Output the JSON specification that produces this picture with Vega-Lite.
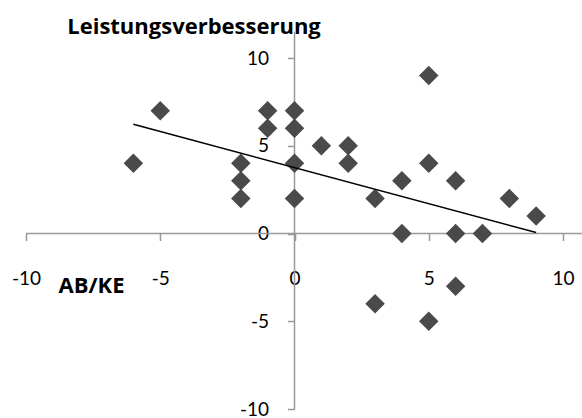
{
  "$schema": "https://vega.github.io/schema/vega-lite/v6.json",
  "width": 537,
  "height": 351,
  "autosize": "none",
  "padding": {"left": 26, "top": 58, "right": 19, "bottom": 9},
  "background": "white",
  "config": {"view": {"stroke": null}, "font": "Lato"},
  "datasets": {
    "points": [
      {"ab_ke": -6, "leistung": 4},
      {"ab_ke": -5, "leistung": 7},
      {"ab_ke": -2, "leistung": 4},
      {"ab_ke": -2, "leistung": 3},
      {"ab_ke": -2, "leistung": 2},
      {"ab_ke": -1, "leistung": 7},
      {"ab_ke": -1, "leistung": 6},
      {"ab_ke": 0, "leistung": 7},
      {"ab_ke": 0, "leistung": 6},
      {"ab_ke": 0, "leistung": 4},
      {"ab_ke": 0, "leistung": 2},
      {"ab_ke": 1, "leistung": 5},
      {"ab_ke": 2, "leistung": 5},
      {"ab_ke": 2, "leistung": 4},
      {"ab_ke": 3, "leistung": 2},
      {"ab_ke": 3, "leistung": -4},
      {"ab_ke": 4, "leistung": 3},
      {"ab_ke": 4, "leistung": 0},
      {"ab_ke": 5, "leistung": 9},
      {"ab_ke": 5, "leistung": 4},
      {"ab_ke": 5, "leistung": -5},
      {"ab_ke": 6, "leistung": 3},
      {"ab_ke": 6, "leistung": 0},
      {"ab_ke": 6, "leistung": -3},
      {"ab_ke": 7, "leistung": 0},
      {"ab_ke": 8, "leistung": 2},
      {"ab_ke": 9, "leistung": 1}
    ],
    "axislines": [
      {"ab_ke": 0, "ab_ke_end": 0, "leistung": -10, "leistung_end": 11.5},
      {"ab_ke": -10, "ab_ke_end": 10.7, "leistung": 0, "leistung_end": 0}
    ]
  },
  "layer": [
    {
      "data": {"name": "axislines"},
      "mark": {"type": "rule", "color": "#999999", "strokeWidth": 1.5},
      "encoding": {
        "x": {"field": "ab_ke", "type": "quantitative"},
        "x2": {"field": "ab_ke_end"},
        "y": {"field": "leistung", "type": "quantitative"},
        "y2": {"field": "leistung_end"}
      }
    },
    {
      "data": {"name": "points"},
      "mark": {"type": "point", "shape": "diamond", "filled": true, "size": 380, "color": "#4a4a4a", "opacity": 1},
      "encoding": {
        "x": {
          "field": "ab_ke",
          "type": "quantitative",
          "scale": {"domain": [-10, 10], "nice": false, "zero": false},
          "axis": {
            "orient": "bottom",
            "offset": -175.5,
            "values": [-10, -5, 0, 5, 10],
            "labelExpr": "datum.value < 0 ? '-' + abs(datum.value) : '' + datum.value",
            "domain": false,
            "grid": false,
            "tickColor": "#999999",
            "tickWidth": 1.5,
            "tickSize": 7,
            "labelFontSize": 19,
            "labelColor": "#000000",
            "labelPadding": 29,
            "labelFlush": false,
            "labelOverlap": false,
            "title": "AB/KE",
            "titleFont": "Open Sans",
            "titleFontSize": 22,
            "titleFontWeight": "bold",
            "titleColor": "#000000",
            "titleAnchor": null,
            "titleAlign": "center",
            "titleBaseline": "middle",
            "titleX": 65,
            "titleY": 52
          }
        },
        "y": {
          "field": "leistung",
          "type": "quantitative",
          "scale": {"domain": [-10, 10], "nice": false, "zero": false},
          "axis": {
            "orient": "left",
            "offset": -268.5,
            "values": [-10, -5, 0, 5, 10],
            "labelExpr": "datum.value < 0 ? '-' + abs(datum.value) : '' + datum.value",
            "domain": false,
            "grid": false,
            "tickColor": "#999999",
            "tickWidth": 1.5,
            "tickSize": 7,
            "labelFontSize": 19,
            "labelColor": "#000000",
            "labelPadding": 19,
            "labelFlush": false,
            "labelOverlap": false,
            "title": "Leistungsverbesserung",
            "titleFont": "Open Sans",
            "titleFontSize": 22,
            "titleFontWeight": "bold",
            "titleColor": "#000000",
            "titleAngle": 0,
            "titleAnchor": null,
            "titleAlign": "center",
            "titleBaseline": "middle",
            "titleX": -101,
            "titleY": -32
          }
        }
      }
    },
    {
      "data": {"name": "points"},
      "transform": [{"regression": "leistung", "on": "ab_ke"}],
      "mark": {"type": "line", "color": "#000000", "strokeWidth": 1.5},
      "encoding": {
        "x": {"field": "ab_ke", "type": "quantitative"},
        "y": {"field": "leistung", "type": "quantitative"}
      }
    }
  ]
}
